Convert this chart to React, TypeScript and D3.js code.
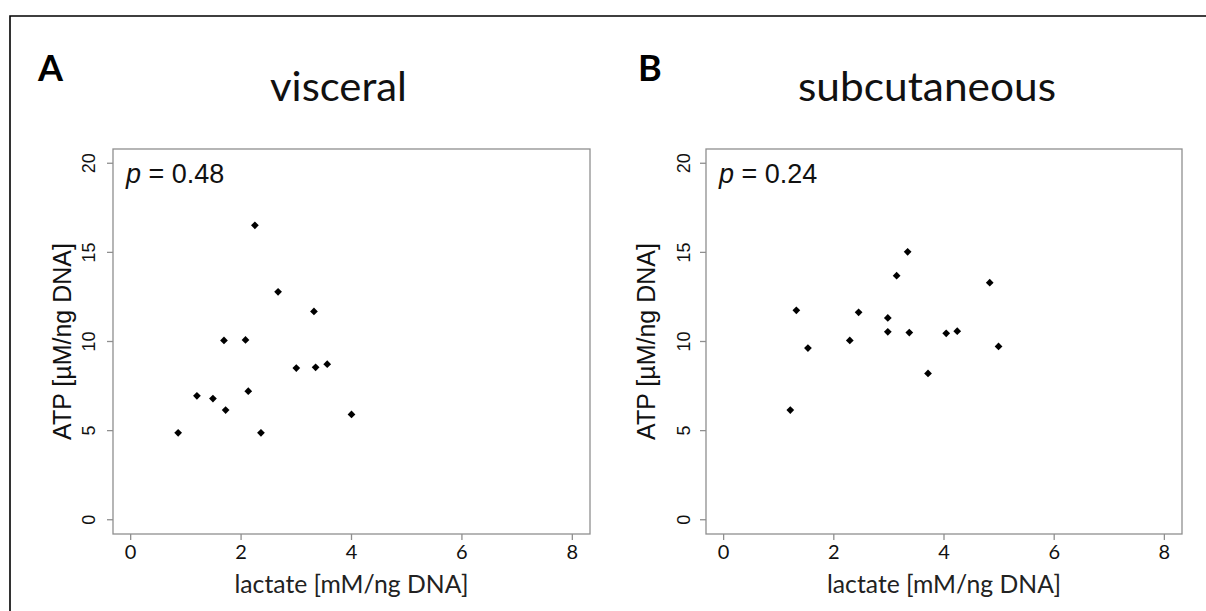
import React from "react";
import * as d3 from "d3";

const xTicks = [0, 2, 4, 6, 8];
const yTicks = [0, 5, 10, 15, 20];

const visceralLactate = [0.86, 1.2, 1.49, 1.72, 1.69, 2.08, 2.13, 2.25, 2.36, 2.67, 3.0, 3.32, 3.35, 3.56, 4.0];
const visceralATP = [4.88, 6.95, 6.8, 6.15, 10.06, 10.09, 7.21, 16.52, 4.88, 12.79, 8.51, 11.69, 8.55, 8.73, 5.91];

const subLactate = [1.21, 1.32, 1.53, 2.29, 2.45, 2.98, 2.98, 3.14, 3.34, 3.37, 3.71, 4.04, 4.24, 4.83, 4.99];
const subATP = [6.15, 11.75, 9.63, 10.06, 11.64, 11.32, 10.54, 13.69, 15.03, 10.5, 8.21, 10.46, 10.58, 13.3, 9.72];

const panelLetters = ["A", "B"];
const panelTitles = ["visceral", "subcutaneous"];
const pValues = ["0.48", "0.24"];
const xLabel = "lactate [mM/ng DNA]";
const yLabel = "ATP [µM/ng DNA]";

const W = 1206;
const H = 611;

const AXIS = "#8f8f8f";
const CAL = "Lato, 'Open Sans', sans-serif";
const ARIAL = "'Liberation Sans', Arial, sans-serif";

type PanelProps = {
  left: number;
  right: number;
  top: number;
  bottom: number;
  xs: number[];
  ys: number[];
  letter: string;
  title: string;
  p: string;
  letterX: number;
  titleX: number;
  titleLen: number;
  yLabelX: number;
  yTickX: number;
};

function Panel(props: PanelProps) {
  const { left, right, top, bottom, xs, ys } = props;
  const x = d3.scaleLinear().domain([-0.32, 8.32]).range([left, right]);
  const y = d3.scaleLinear().domain([-0.8, 20.8]).range([bottom, top]);
  const diamond = d3.symbol().type(d3.symbolSquare).size(30)();
  const cy = (top + bottom) / 2;
  const cx = (left + right) / 2;
  return (
    <g>
      <text x={props.letterX} y={81} fontFamily={CAL} fontWeight="bold" fontSize={36} fill="#000">
        {props.letter}
      </text>
      <text
        x={props.titleX}
        y={101}
        fontFamily={CAL}
        fontSize={41}
        fill="#111"
        textLength={props.titleLen}
        lengthAdjust="spacingAndGlyphs"
      >
        {props.title}
      </text>
      <rect x={left} y={top} width={right - left} height={bottom - top} fill="none" stroke={AXIS} strokeWidth={1.3} />
      {xTicks.map((t) => (
        <g key={"x" + t}>
          <line x1={x(t)} x2={x(t)} y1={bottom} y2={bottom + 6} stroke={AXIS} strokeWidth={1.3} />
          <text x={x(t)} y={559} textAnchor="middle" fontFamily={CAL} fontSize={20} fill="#111">
            {t}
          </text>
        </g>
      ))}
      {yTicks.map((t) => (
        <g key={"y" + t}>
          <line x1={left - 6} x2={left} y1={y(t)} y2={y(t)} stroke={AXIS} strokeWidth={1.3} />
          <text
            transform={`translate(${props.yTickX},${y(t)}) rotate(-90)`}
            textAnchor="middle"
            fontFamily={ARIAL}
            fontSize={18}
            fill="#111"
          >
            {t}
          </text>
        </g>
      ))}
      <text x={cx} y={593} textAnchor="middle" fontFamily={CAL} fontSize={25} fill="#222" textLength={234} lengthAdjust="spacingAndGlyphs">
        {xLabel}
      </text>
      <text
        transform={`translate(${props.yLabelX},${cy}) rotate(-90)`}
        textAnchor="middle"
        fontFamily={ARIAL}
        fontSize={25}
        fill="#111"
      >
        {yLabel}
      </text>
      <text x={left + 13} y={183} fontFamily={ARIAL} fontSize={27} fill="#111">
        <tspan fontStyle="italic">p</tspan>
        {" = " + props.p}
      </text>
      {xs.map((v, i) => (
        <path key={i} d={diamond || ""} transform={`translate(${x(v)},${y(ys[i])}) rotate(45)`} fill="#000" />
      ))}
    </g>
  );
}

export default function App() {
  return (
    <svg width={W} height={H} style={{ position: "absolute", left: 0, top: 0, background: "#fff" }}>
      <rect x={0} y={0} width={W} height={H} fill="#fff" />
      <path d={`M10,${H + 5} L10,16 L${W + 5},16`} fill="none" stroke="#000" strokeWidth={1.6} />
      <Panel
        left={113}
        right={590}
        top={149}
        bottom={534}
        xs={visceralLactate}
        ys={visceralATP}
        letter={panelLetters[0]}
        title={panelTitles[0]}
        p={pValues[0]}
        letterX={38}
        titleX={270}
        titleLen={137}
        yLabelX={71}
        yTickX={95}
      />
      <Panel
        left={706}
        right={1182}
        top={149}
        bottom={534}
        xs={subLactate}
        ys={subATP}
        letter={panelLetters[1]}
        title={panelTitles[1]}
        p={pValues[1]}
        letterX={638}
        titleX={798}
        titleLen={258}
        yLabelX={655}
        yTickX={690}
      />
    </svg>
  );
}
